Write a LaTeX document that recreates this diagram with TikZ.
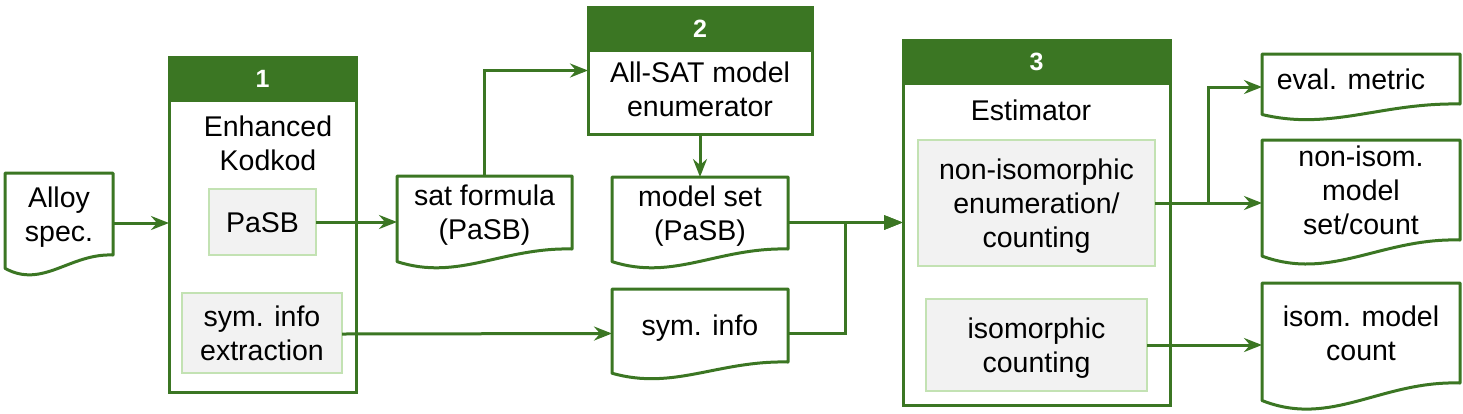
\documentclass[tikz,border=0pt]{standalone}
\usepackage{fontspec}
\setmainfont{Liberation Sans}
\usetikzlibrary{arrows.meta,calc}
\definecolor{G}{HTML}{3B7623}
\definecolor{inFill}{HTML}{F2F2F2}
\definecolor{inLine}{HTML}{C3E2B3}
\tikzset{
  gline/.style={draw=G, line width=3pt},
  arr/.style={gline, -{Stealth[length=18pt,width=14pt,inset=6pt]}},
  blk/.style={gline, -{Triangle[length=19pt,width=14pt]}},
  txt/.style={font=\fontsize{28.5}{34}\selectfont, align=center, inner sep=0pt, outer sep=0pt},
  l1/.style={text height=20pt, text depth=0pt},
  l2/.style={text height=54pt, text depth=0pt},
  l3/.style={text height=88pt, text depth=0pt},
  bigbox/.style={gline, fill=white, rectangle, inner sep=0pt, outer sep=0pt},
  hdr/.style={draw=G, line width=3pt, fill=G, text=white, inner sep=0pt, outer sep=0pt,
    font=\fontsize{25}{30}\selectfont\bfseries},
  inbox/.style={txt, draw=inLine, fill=inFill, line width=1.5pt},
  doc/.style={txt, draw=none},
}
% outline of a document shape around node #1, wave depth #2
\newcommand\docout[2]{%
  \draw[gline, line join=round] let \p1=(#1.south west), \p2=(#1.north east), \n1={\x2-\x1} in
    (\x1,\y2) -- (\x2,\y2) -- (\x2,\y1)
    .. controls (\x1+0.6*\n1, \y1+0.1*#2) and (\x1+0.35*\n1, \y1-1.8*#2) .. (\x1, \y1-0.7*#2)
    -- cycle;}
\begin{document}
\begin{tikzpicture}[x=1pt,y=-1pt]
\useasboundingbox (0,0) rectangle (1463,413);
% ---- big boxes
\node[bigbox, minimum width=187pt, minimum height=335pt] (box1) at (262.5,224.5) {};
\node[hdr, minimum width=187pt, minimum height=43pt] (hdr1) at (262.5,78.5) {1};
\node[bigbox, minimum width=224pt, minimum height=127pt] (box2) at (700,70.5) {};
\node[hdr, minimum width=224pt, minimum height=43pt] (hdr2) at (700,28.5) {2};
\node[bigbox, minimum width=267pt, minimum height=365pt] (box3) at (1036.5,222.5) {};
\node[hdr, minimum width=267pt, minimum height=43pt] (hdr3) at (1036.5,61.5) {3};
% ---- titles
\node[txt, l2] (t1) at (268,143.2) {Enhanced\\Kodkod};
\node[txt, l2] (t2) at (700,89.2) {All-SAT model\\enumerator};
\node[txt, l1] (t3) at (1031,110.2) {Estimator};
% ---- inner boxes
\node[inbox, l1, minimum width=107pt, minimum height=66pt] (pasb) at (262.5,222) {PaSB};
\node[inbox, l2, minimum width=160pt, minimum height=80pt] (symx) at (262,333) {sym. info\\extraction};
\node[inbox, l3, minimum width=237pt, minimum height=126pt] (noniso) at (1036.5,203) {non-isomorphic\\enumeration/\\counting};
\node[inbox, l2, minimum width=221pt, minimum height=92pt] (iso) at (1036.5,345) {isomorphic\\counting};
% ---- documents
\node[doc, l2, minimum width=108pt, minimum height=82pt] (alloy) at (59,214) {Alloy\\spec.};
\docout{alloy}{19}
\node[doc, l2, minimum width=175pt, minimum height=73pt] (sat) at (484.5,212.5) {sat formula\\(PaSB)};
\docout{sat}{18}
\node[doc, l2, minimum width=176pt, minimum height=72pt] (mset) at (700,213) {model set\\(PaSB)};
\docout{mset}{18}
\node[doc, l1, minimum width=176pt, minimum height=73pt] (syminfo) at (700,325.5) {sym. info};
\docout{syminfo}{16}
\node[doc, l1, minimum width=198pt, minimum height=50pt] (eval) at (1361,79) {eval. metric\hspace{20pt}};
\docout{eval}{15}
\node[doc, l3, minimum width=198pt, minimum height=100pt] (nonisom) at (1361,190) {non-isom.\\model\\set/count};
\docout{nonisom}{23}
\node[doc, l2, minimum width=198pt, minimum height=100pt] (isom) at (1361,333) {isom. model\\count};
\docout{isom}{25}
% ---- connectors
\draw[arr] ([yshift=-9pt]alloy.east) -- ([yshift=-9pt]alloy.east -| box1.west);
\draw[arr] (pasb.east) -- (pasb.east -| sat.west);
\draw[arr] ([yshift=-1pt]symx.east) -- ([yshift=-8pt]syminfo.west);
\draw[arr] (sat.north) |- (box2.west);
\draw[arr] (box2.south) -- (mset.north);
\coordinate (join) at (845,222.5);
\draw[blk] ([yshift=-8pt]syminfo.east) -| (join) -- (box3.west);
\draw[blk] ([yshift=-9.5pt]mset.east) -- (box3.west);
\coordinate (branch) at (1208,203);
\draw[arr] (noniso.east) -- (noniso.east -| nonisom.west);
\draw[arr] (branch) |- ([yshift=-8pt]eval.west);
\draw[arr] (iso.east) -- (iso.east -| isom.west);
\end{tikzpicture}
\end{document}
